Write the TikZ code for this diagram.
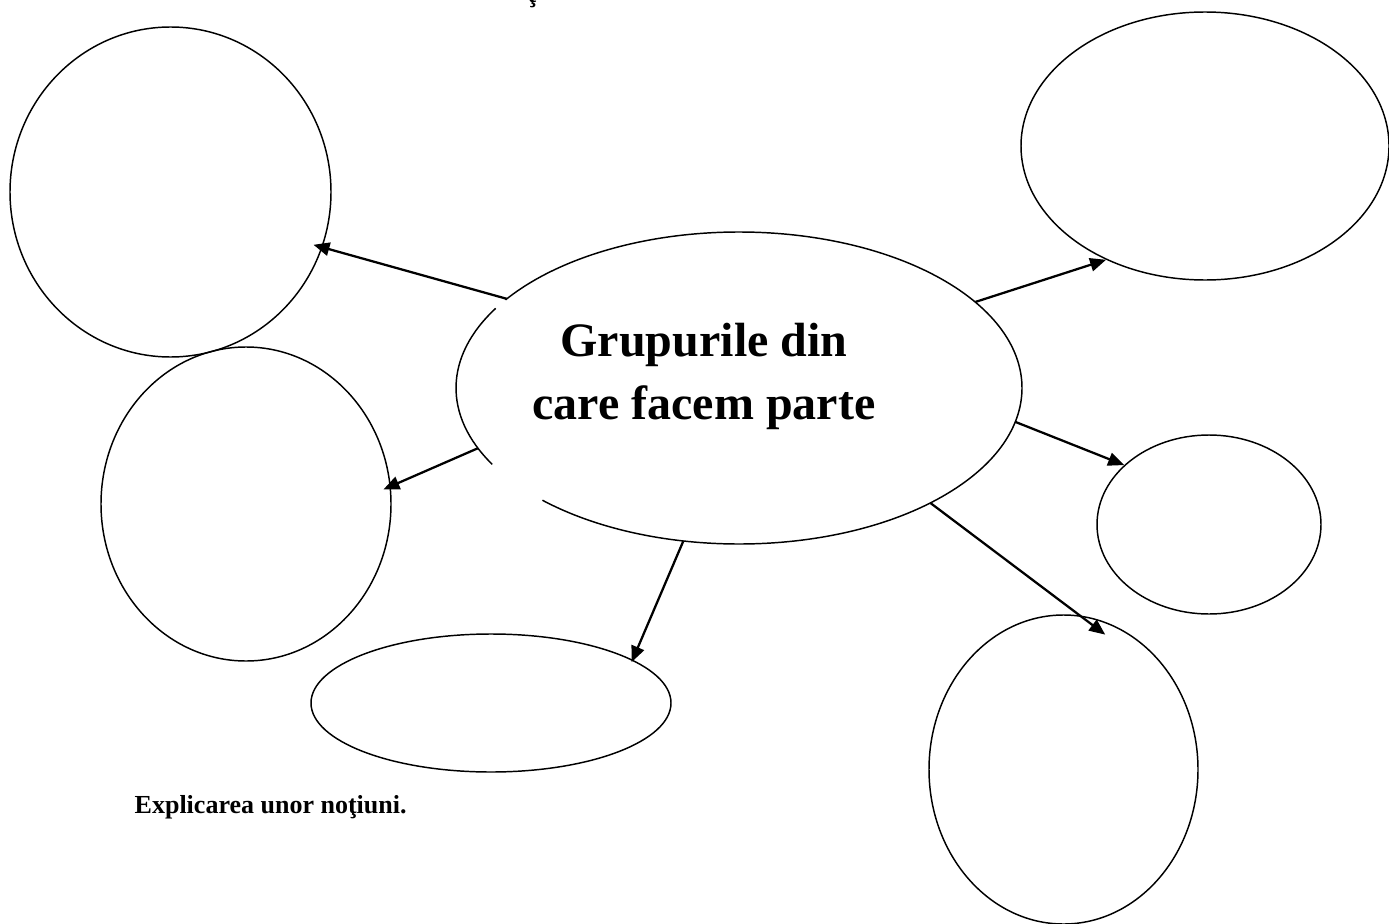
\documentclass[tikz,border=0pt]{standalone}
\usepackage{fontspec}
\setmainfont{Liberation Serif}
\usetikzlibrary{arrows.meta,shapes.geometric}
\tikzset{
  >=Latex,
  bubble/.style={draw, ellipse, line width=1.1pt, inner sep=0pt},
  hub/.style={ellipse, inner sep=0pt, minimum width=424.5pt, minimum height=234pt},
  ring/.style={line width=1.1pt},
  hubtext/.style={align=center, font=\fontsize{36}{47}\selectfont\bfseries},
  note/.style={font=\fontsize{19.5}{23}\selectfont\bfseries},
  arr/.style={-{Triangle[length=12pt, width=10pt]}, line width=1.7pt}
}
\begin{document}
\begin{tikzpicture}[x=0.75pt,y=0.75pt]
\useasboundingbox (0,0) rectangle (1389,-924);
\clip (0,0) rectangle (1389,-924);

\node[note, anchor=base] (topfrag) at (532,-3) {ţ};

% Central idea
\node[hub] (hub) at (739,-388) {};
\draw[ring] (hub.center) ++(-134:283 and 156)
  arc[start angle=-134, end angle=145.6, x radius=283, y radius=156];
\draw[ring] (hub.center) ++(149.3:283 and 156)
  arc[start angle=149.3, end angle=209.3, x radius=283, y radius=156];
\node[hubtext] (hubtitle) at (704,-376.5) {Grupurile din\\care facem parte};

% Empty bubbles
\node[bubble, minimum width=240.75pt, minimum height=247.5pt] (grpNW) at (170.5,-192) {};
\node[bubble, minimum width=217.5pt, minimum height=235.5pt] (grpW) at (246,-504) {};
\node[bubble, minimum width=270pt, minimum height=103.5pt] (grpS) at (491,-703) {};
\node[bubble, minimum width=276pt, minimum height=201pt] (grpNE) at (1205,-146) {};
\node[bubble, minimum width=168pt, minimum height=134.25pt] (grpE) at (1209,-524.5) {};
\node[bubble, minimum width=201.75pt, minimum height=231.75pt] (grpSE) at (1063.5,-769.5) {};

% Arrows from the centre
\foreach \a/\b/\s in {hub.159/grpNW.-20/-7pt, hub.193/grpW.7/-6pt,
  hub.250/grpS.17/-2pt, hub.20/grpNE.229/0pt, hub.-7/grpE.145/0pt,
  hub.-31/grpSE.84/-24pt}{
  \draw[arr, shorten >=\s] (\a) -- (\b);
}

\node[note, anchor=base west] (expl) at (130,-813) {Explicarea unor noţiuni.};

\end{tikzpicture}
\end{document}
